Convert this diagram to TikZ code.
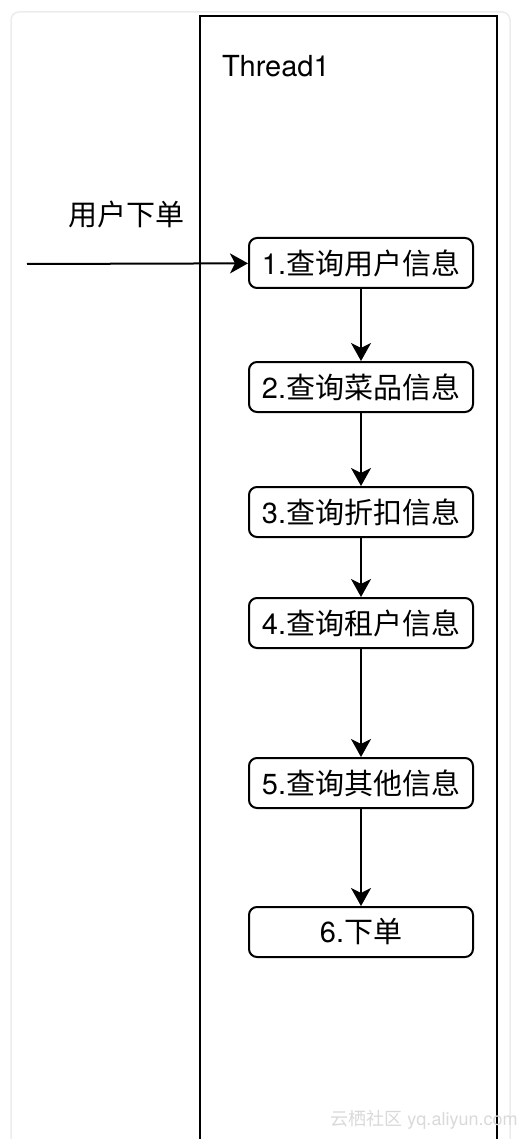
\documentclass[tikz,border=0pt]{standalone}
\usepackage{fontspec}
\setmainfont{TeX Gyre Heros}
\newfontfamily\cjk{Noto Sans CJK SC}
\usetikzlibrary{arrows.meta}

\begin{document}
\begin{tikzpicture}[x=1pt, y=-1pt, line width=2pt,
    every node/.style = {font=\fontsize{29pt}{34pt}\selectfont},
    query/.style = {draw, rounded corners=8pt, fill=white, minimum width=224pt, minimum height=50pt, inner sep=0pt},
    flow/.style = {-{Stealth[length=18pt, width=20pt, inset=5pt]}}]

\useasboundingbox (0, 0) rectangle (520, 1139);
\draw[line width=1.5pt, gray!15, rounded corners=8pt] (11, 1139) -- (11, 12) -- (510, 12) -- (510, 1139);

% thread lane, open at the bottom
\draw (200, 1145) -- (200, 16) -- (497, 16) -- (497, 1145);
\node[anchor=base west, inner sep=0pt] (thread) at (221, 77) {Thread1};

\node (order) at (126, 214) {\cjk 用户下单};
\coordinate (start) at (27, 264);

\node[query] (q1) at (361, 263) {1.{\cjk 查询用户信息}};
\node[query] (q2) at (361, 387) {2.{\cjk 查询菜品信息}};
\node[query] (q3) at (361, 512) {3.{\cjk 查询折扣信息}};
\node[query] (q4) at (361, 623) {4.{\cjk 查询租户信息}};
\node[query] (q5) at (361, 783) {5.{\cjk 查询其他信息}};
\node[query] (q6) at (361, 932) {6.{\cjk 下单}};

\draw[flow] (start) -- (q1);
\draw[flow] (q1) -- (q2);
\draw[flow] (q2) -- (q3);
\draw[flow] (q3) -- (q4);
\draw[flow] (q4) -- (q5);
\draw[flow] (q5) -- (q6);

\node[gray!30, font=\fontsize{18pt}{20pt}\selectfont] (mark) at (424, 1120) {{\cjk 云栖社区} yq.aliyun.com};

\end{tikzpicture}
\end{document}
